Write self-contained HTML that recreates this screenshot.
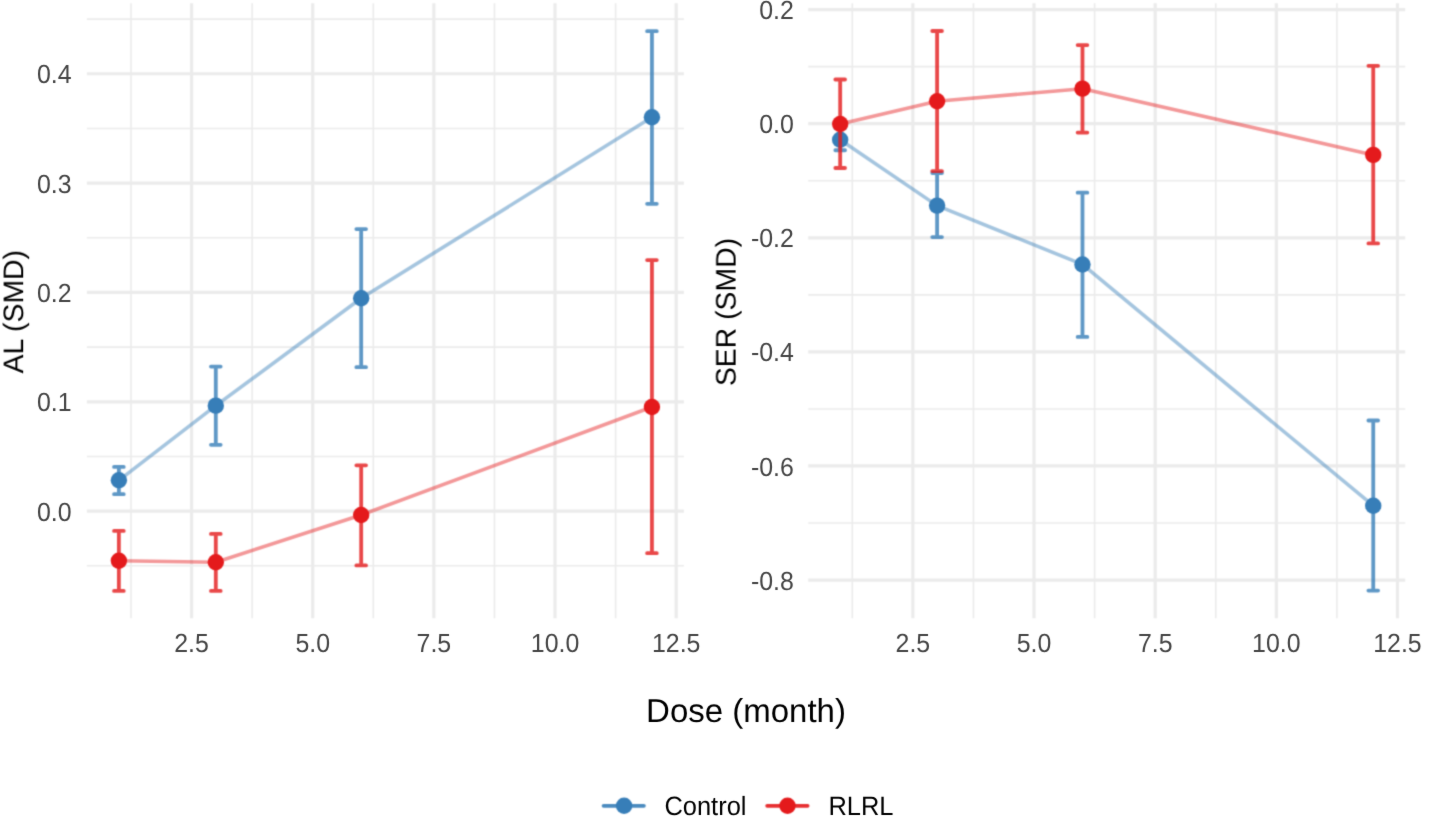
<!DOCTYPE html>
<html><head><meta charset="utf-8"><style>
html,body{margin:0;padding:0;background:#fff;}
body{width:1441px;height:826px;overflow:hidden;}
svg{display:block;font-family:"Liberation Sans", sans-serif;text-rendering:geometricPrecision;}
</style></head><body>
<svg width="1441" height="826" viewBox="0 0 1441 826">
<defs><filter id="sb" x="0" y="0" width="1441" height="826" filterUnits="userSpaceOnUse" color-interpolation-filters="sRGB"><feConvolveMatrix order="3" kernelMatrix="0.03607 0.11778 0.03607 0.11778 0.38462 0.11778 0.03607 0.11778 0.03607" divisor="1" edgeMode="duplicate" preserveAlpha="true"/></filter>
<filter id="st" x="0" y="0" width="1441" height="826" filterUnits="userSpaceOnUse" color-interpolation-filters="sRGB"><feConvolveMatrix order="3" kernelMatrix="0.00524 0.06192 0.00524 0.06192 0.73137 0.06192 0.00524 0.06192 0.00524" divisor="1" edgeMode="none" preserveAlpha="false"/></filter></defs>
<g filter="url(#sb)">
<rect width="1441" height="826" fill="#fff"/>
<line x1="86.9" y1="565.82" x2="683.9" y2="565.82" stroke="#EBEBEB" stroke-width="1.6"/>
<line x1="86.9" y1="456.48" x2="683.9" y2="456.48" stroke="#EBEBEB" stroke-width="1.6"/>
<line x1="86.9" y1="347.13" x2="683.9" y2="347.13" stroke="#EBEBEB" stroke-width="1.6"/>
<line x1="86.9" y1="237.79" x2="683.9" y2="237.79" stroke="#EBEBEB" stroke-width="1.6"/>
<line x1="86.9" y1="128.44" x2="683.9" y2="128.44" stroke="#EBEBEB" stroke-width="1.6"/>
<line x1="86.9" y1="19.1" x2="683.9" y2="19.1" stroke="#EBEBEB" stroke-width="1.6"/>
<line x1="131" y1="3.3" x2="131" y2="618.2" stroke="#EBEBEB" stroke-width="1.6"/>
<line x1="252.15" y1="3.3" x2="252.15" y2="618.2" stroke="#EBEBEB" stroke-width="1.6"/>
<line x1="373.3" y1="3.3" x2="373.3" y2="618.2" stroke="#EBEBEB" stroke-width="1.6"/>
<line x1="494.45" y1="3.3" x2="494.45" y2="618.2" stroke="#EBEBEB" stroke-width="1.6"/>
<line x1="615.6" y1="3.3" x2="615.6" y2="618.2" stroke="#EBEBEB" stroke-width="1.6"/>
<line x1="86.9" y1="511.15" x2="683.9" y2="511.15" stroke="#EBEBEB" stroke-width="3.2"/>
<line x1="86.9" y1="401.8" x2="683.9" y2="401.8" stroke="#EBEBEB" stroke-width="3.2"/>
<line x1="86.9" y1="292.46" x2="683.9" y2="292.46" stroke="#EBEBEB" stroke-width="3.2"/>
<line x1="86.9" y1="183.11" x2="683.9" y2="183.11" stroke="#EBEBEB" stroke-width="3.2"/>
<line x1="86.9" y1="73.77" x2="683.9" y2="73.77" stroke="#EBEBEB" stroke-width="3.2"/>
<line x1="191.57" y1="3.3" x2="191.57" y2="618.2" stroke="#EBEBEB" stroke-width="3.2"/>
<line x1="312.72" y1="3.3" x2="312.72" y2="618.2" stroke="#EBEBEB" stroke-width="3.2"/>
<line x1="433.87" y1="3.3" x2="433.87" y2="618.2" stroke="#EBEBEB" stroke-width="3.2"/>
<line x1="555.02" y1="3.3" x2="555.02" y2="618.2" stroke="#EBEBEB" stroke-width="3.2"/>
<line x1="676.17" y1="3.3" x2="676.17" y2="618.2" stroke="#EBEBEB" stroke-width="3.2"/>
<polyline points="118.88,480.31 215.8,405.63 361.18,298.26 651.94,117.29" fill="none" stroke="#377EB8" stroke-opacity="0.45" stroke-width="3.6" stroke-linejoin="round"/>
<path d="M114.04 466.97H123.73M118.88 466.97V494.2M114.04 494.2H123.73" fill="none" stroke="#377EB8" stroke-opacity="0.8" stroke-width="3.8" stroke-linecap="round"/>
<path d="M210.96 366.6H220.65M215.8 366.6V444.78M210.96 444.78H220.65" fill="none" stroke="#377EB8" stroke-opacity="0.8" stroke-width="3.8" stroke-linecap="round"/>
<path d="M356.34 229.04H366.03M361.18 229.04V367.14M356.34 367.14H366.03" fill="none" stroke="#377EB8" stroke-opacity="0.8" stroke-width="3.8" stroke-linecap="round"/>
<path d="M647.1 31.13H656.79M651.94 31.13V203.78M647.1 203.78H656.79" fill="none" stroke="#377EB8" stroke-opacity="0.8" stroke-width="3.8" stroke-linecap="round"/>
<circle cx="118.88" cy="480.31" r="8.2" fill="#377EB8"/>
<circle cx="215.8" cy="405.63" r="8.2" fill="#377EB8"/>
<circle cx="361.18" cy="298.26" r="8.2" fill="#377EB8"/>
<circle cx="651.94" cy="117.29" r="8.2" fill="#377EB8"/>
<polyline points="118.88,560.68 215.8,562.32 361.18,514.98 651.94,406.94" fill="none" stroke="#E41A1C" stroke-opacity="0.45" stroke-width="3.6" stroke-linejoin="round"/>
<path d="M114.04 530.94H123.73M118.88 530.94V590.97M114.04 590.97H123.73" fill="none" stroke="#E41A1C" stroke-opacity="0.8" stroke-width="3.8" stroke-linecap="round"/>
<path d="M210.96 533.89H220.65M215.8 533.89V590.97M210.96 590.97H220.65" fill="none" stroke="#E41A1C" stroke-opacity="0.8" stroke-width="3.8" stroke-linecap="round"/>
<path d="M356.34 465.33H366.03M361.18 465.33V565.39M356.34 565.39H366.03" fill="none" stroke="#E41A1C" stroke-opacity="0.8" stroke-width="3.8" stroke-linecap="round"/>
<path d="M647.1 260.09H656.79M651.94 260.09V553.14M647.1 553.14H656.79" fill="none" stroke="#E41A1C" stroke-opacity="0.8" stroke-width="3.8" stroke-linecap="round"/>
<circle cx="118.88" cy="560.68" r="8.2" fill="#E41A1C"/>
<circle cx="215.8" cy="562.32" r="8.2" fill="#E41A1C"/>
<circle cx="361.18" cy="514.98" r="8.2" fill="#E41A1C"/>
<circle cx="651.94" cy="406.94" r="8.2" fill="#E41A1C"/>
<line x1="808.2" y1="66.66" x2="1405.2" y2="66.66" stroke="#EBEBEB" stroke-width="1.6"/>
<line x1="808.2" y1="180.75" x2="1405.2" y2="180.75" stroke="#EBEBEB" stroke-width="1.6"/>
<line x1="808.2" y1="294.84" x2="1405.2" y2="294.84" stroke="#EBEBEB" stroke-width="1.6"/>
<line x1="808.2" y1="408.93" x2="1405.2" y2="408.93" stroke="#EBEBEB" stroke-width="1.6"/>
<line x1="808.2" y1="523.01" x2="1405.2" y2="523.01" stroke="#EBEBEB" stroke-width="1.6"/>
<line x1="852.3" y1="3.3" x2="852.3" y2="618.2" stroke="#EBEBEB" stroke-width="1.6"/>
<line x1="973.45" y1="3.3" x2="973.45" y2="618.2" stroke="#EBEBEB" stroke-width="1.6"/>
<line x1="1094.6" y1="3.3" x2="1094.6" y2="618.2" stroke="#EBEBEB" stroke-width="1.6"/>
<line x1="1215.75" y1="3.3" x2="1215.75" y2="618.2" stroke="#EBEBEB" stroke-width="1.6"/>
<line x1="1336.9" y1="3.3" x2="1336.9" y2="618.2" stroke="#EBEBEB" stroke-width="1.6"/>
<line x1="808.2" y1="9.61" x2="1405.2" y2="9.61" stroke="#EBEBEB" stroke-width="3.2"/>
<line x1="808.2" y1="123.7" x2="1405.2" y2="123.7" stroke="#EBEBEB" stroke-width="3.2"/>
<line x1="808.2" y1="237.79" x2="1405.2" y2="237.79" stroke="#EBEBEB" stroke-width="3.2"/>
<line x1="808.2" y1="351.88" x2="1405.2" y2="351.88" stroke="#EBEBEB" stroke-width="3.2"/>
<line x1="808.2" y1="465.97" x2="1405.2" y2="465.97" stroke="#EBEBEB" stroke-width="3.2"/>
<line x1="808.2" y1="580.06" x2="1405.2" y2="580.06" stroke="#EBEBEB" stroke-width="3.2"/>
<line x1="912.87" y1="3.3" x2="912.87" y2="618.2" stroke="#EBEBEB" stroke-width="3.2"/>
<line x1="1034.02" y1="3.3" x2="1034.02" y2="618.2" stroke="#EBEBEB" stroke-width="3.2"/>
<line x1="1155.17" y1="3.3" x2="1155.17" y2="618.2" stroke="#EBEBEB" stroke-width="3.2"/>
<line x1="1276.32" y1="3.3" x2="1276.32" y2="618.2" stroke="#EBEBEB" stroke-width="3.2"/>
<line x1="1397.47" y1="3.3" x2="1397.47" y2="618.2" stroke="#EBEBEB" stroke-width="3.2"/>
<polyline points="840.18,139.73 937.1,205.62 1082.48,264.43 1373.24,505.73" fill="none" stroke="#377EB8" stroke-opacity="0.45" stroke-width="3.6" stroke-linejoin="round"/>
<path d="M835.34 127.98H845.03M840.18 127.98V150.23M835.34 150.23H845.03" fill="none" stroke="#377EB8" stroke-opacity="0.8" stroke-width="3.8" stroke-linecap="round"/>
<path d="M932.26 172.99H941.95M937.1 172.99V237.11M932.26 237.11H941.95" fill="none" stroke="#377EB8" stroke-opacity="0.8" stroke-width="3.8" stroke-linecap="round"/>
<path d="M1077.64 192.72H1087.33M1082.48 192.72V336.93M1077.64 336.93H1087.33" fill="none" stroke="#377EB8" stroke-opacity="0.8" stroke-width="3.8" stroke-linecap="round"/>
<path d="M1368.4 420.51H1378.09M1373.24 420.51V590.56M1368.4 590.56H1378.09" fill="none" stroke="#377EB8" stroke-opacity="0.8" stroke-width="3.8" stroke-linecap="round"/>
<circle cx="840.18" cy="139.73" r="8.2" fill="#377EB8"/>
<circle cx="937.1" cy="205.62" r="8.2" fill="#377EB8"/>
<circle cx="1082.48" cy="264.43" r="8.2" fill="#377EB8"/>
<circle cx="1373.24" cy="505.73" r="8.2" fill="#377EB8"/>
<polyline points="840.18,123.99 937.1,101.22 1082.48,88.67 1373.24,154.9" fill="none" stroke="#E41A1C" stroke-opacity="0.45" stroke-width="3.6" stroke-linejoin="round"/>
<path d="M835.34 79.49H845.03M840.18 79.49V168.02M835.34 168.02H845.03" fill="none" stroke="#E41A1C" stroke-opacity="0.8" stroke-width="3.8" stroke-linecap="round"/>
<path d="M932.26 31H941.95M937.1 31V171.1M932.26 171.1H941.95" fill="none" stroke="#E41A1C" stroke-opacity="0.8" stroke-width="3.8" stroke-linecap="round"/>
<path d="M1077.64 45.09H1087.33M1082.48 45.09V132.6M1077.64 132.6H1087.33" fill="none" stroke="#E41A1C" stroke-opacity="0.8" stroke-width="3.8" stroke-linecap="round"/>
<path d="M1368.4 65.8H1378.09M1373.24 65.8V243.44M1368.4 243.44H1378.09" fill="none" stroke="#E41A1C" stroke-opacity="0.8" stroke-width="3.8" stroke-linecap="round"/>
<circle cx="840.18" cy="123.99" r="8.2" fill="#E41A1C"/>
<circle cx="937.1" cy="101.22" r="8.2" fill="#E41A1C"/>
<circle cx="1082.48" cy="88.67" r="8.2" fill="#E41A1C"/>
<circle cx="1373.24" cy="154.9" r="8.2" fill="#E41A1C"/>
<line x1="603.6" y1="805.8" x2="643.9" y2="805.8" stroke="#377EB8" stroke-opacity="0.9" stroke-width="3.8" stroke-linecap="round"/>
<circle cx="624.1" cy="805.8" r="8.2" fill="#377EB8"/>
<line x1="767.1999999999999" y1="805.8" x2="807.6" y2="805.8" stroke="#E41A1C" stroke-opacity="0.9" stroke-width="3.8" stroke-linecap="round"/>
<circle cx="787.5" cy="805.8" r="8.2" fill="#E41A1C"/>
</g>
<g filter="url(#st)">
<text transform="translate(71.6,520.75) scale(0.95,1)" text-anchor="end" font-size="26.2" fill="#454545">0.0</text>
<text transform="translate(71.6,411.4) scale(0.95,1)" text-anchor="end" font-size="26.2" fill="#454545">0.1</text>
<text transform="translate(71.6,302.06) scale(0.95,1)" text-anchor="end" font-size="26.2" fill="#454545">0.2</text>
<text transform="translate(71.6,192.71) scale(0.95,1)" text-anchor="end" font-size="26.2" fill="#454545">0.3</text>
<text transform="translate(71.6,83.37) scale(0.95,1)" text-anchor="end" font-size="26.2" fill="#454545">0.4</text>
<text transform="translate(191.57,651.5) scale(0.95,1)" text-anchor="middle" font-size="26.2" fill="#454545">2.5</text>
<text transform="translate(312.72,651.5) scale(0.95,1)" text-anchor="middle" font-size="26.2" fill="#454545">5.0</text>
<text transform="translate(433.87,651.5) scale(0.95,1)" text-anchor="middle" font-size="26.2" fill="#454545">7.5</text>
<text transform="translate(555.02,651.5) scale(0.95,1)" text-anchor="middle" font-size="26.2" fill="#454545">10.0</text>
<text transform="translate(676.17,651.5) scale(0.95,1)" text-anchor="middle" font-size="26.2" fill="#454545">12.5</text>
<text transform="translate(793.8,19.21) scale(0.95,1)" text-anchor="end" font-size="26.2" fill="#454545">0.2</text>
<text transform="translate(793.8,133.3) scale(0.95,1)" text-anchor="end" font-size="26.2" fill="#454545">0.0</text>
<text transform="translate(793.8,247.39) scale(0.95,1)" text-anchor="end" font-size="26.2" fill="#454545">-0.2</text>
<text transform="translate(793.8,361.48) scale(0.95,1)" text-anchor="end" font-size="26.2" fill="#454545">-0.4</text>
<text transform="translate(793.8,475.57) scale(0.95,1)" text-anchor="end" font-size="26.2" fill="#454545">-0.6</text>
<text transform="translate(793.8,589.66) scale(0.95,1)" text-anchor="end" font-size="26.2" fill="#454545">-0.8</text>
<text transform="translate(912.87,651.5) scale(0.95,1)" text-anchor="middle" font-size="26.2" fill="#454545">2.5</text>
<text transform="translate(1034.02,651.5) scale(0.95,1)" text-anchor="middle" font-size="26.2" fill="#454545">5.0</text>
<text transform="translate(1155.17,651.5) scale(0.95,1)" text-anchor="middle" font-size="26.2" fill="#454545">7.5</text>
<text transform="translate(1276.32,651.5) scale(0.95,1)" text-anchor="middle" font-size="26.2" fill="#454545">10.0</text>
<text transform="translate(1397.47,651.5) scale(0.95,1)" text-anchor="middle" font-size="26.2" fill="#454545">12.5</text>
<text transform="translate(23.2,311.7) rotate(-90)" text-anchor="middle" font-size="28.4" fill="#000">AL (SMD)</text>
<text transform="translate(735.6,312.1) rotate(-90)" text-anchor="middle" font-size="28.4" fill="#000">SER (SMD)</text>
<text x="746.0" y="722.4" text-anchor="middle" font-size="33.0" fill="#000">Dose (month)</text>
<text transform="translate(664.4,814.9) scale(0.965,1)" font-size="26.4" fill="#000">Control</text>
<text transform="translate(828.4,814.9) scale(0.965,1)" font-size="26.4" fill="#000">RLRL</text>
</g>
</svg>
</body></html>
